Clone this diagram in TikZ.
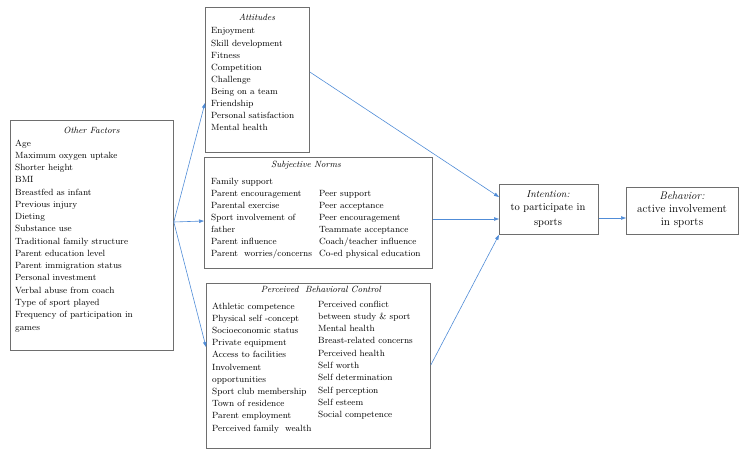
\documentclass[tikz,border=0pt]{standalone}
\usetikzlibrary{arrows.meta}
\definecolor{boxgray}{RGB}{110,110,110}
\definecolor{arrowblue}{RGB}{80,140,215}
\begin{document}
\begin{tikzpicture}[x=1pt,y=-1pt,
  box/.style={draw=boxgray, line width=0.8pt, inner sep=0pt, anchor=north west},
  item/.style={anchor=base west, inner sep=0pt, font=\fontsize{9}{11}\selectfont},
  ttl/.style={anchor=base, inner sep=0pt, font=\fontsize{9}{11}\selectfont\itshape},
  bigttl/.style={anchor=base, inner sep=0pt, font=\fontsize{10}{12}\selectfont\itshape},
  ctr/.style={anchor=base, inner sep=0pt, font=\fontsize{10.5}{12}\selectfont},
  spaced/.style={font=\fontsize{11.3}{13}\selectfont},
  arr/.style={draw=arrowblue, line width=0.6pt, -{Triangle[length=5pt,width=3.5pt]}}]
\useasboundingbox (0,0) rectangle (745,455);
% boxes
\node[box, minimum width=163pt, minimum height=230pt] (of) at (10,120) {};
\node[box, minimum width=104pt, minimum height=145pt] (att) at (205,7) {};
\node[box, minimum width=228pt, minimum height=111pt] (sn) at (204,157) {};
\node[box, minimum width=224pt, minimum height=165pt] (pbc) at (206,283) {};
\node[box, minimum width=99pt, minimum height=50pt] (int) at (499,184) {};
\node[box, minimum width=112pt, minimum height=47pt] (beh) at (626,187) {};
% Other factors
\node[ttl] (oft) at (91.5,133) {Other Factors};
\foreach \t [count=\i from 0] in {Age, Maximum oxygen uptake, Shorter height, BMI, Breastfed as infant, Previous injury, Dieting, Substance use, Traditional family structure, Parent education level, Parent immigration status, Personal investment, Verbal abuse from coach, Type of sport played, Frequency of participation in, games}
  \node[item] (of\i) at (15,146+12.27*\i) {\t};
% Attitudes
\node[ttl] (attt) at (257,20) {Attitudes};
\foreach \t [count=\i from 0] in {Enjoyment, Skill development, Fitness, Competition, Challenge, Being on a team, Friendship, Personal satisfaction, Mental health}
  \node[item] (att\i) at (211,34+12.1*\i) {\t};
% Subjective norms
\node[ttl] (snt) at (306,167) {Subjective Norms};
\foreach \t [count=\i from 0] in {Family support, Parent encouragement, Parental exercise, Sport involvement of, father, Parent influence, Parent\ \ worries/concerns}
  \node[item] (snl\i) at (211,184+12*\i) {\t};
\foreach \t [count=\i from 0] in {Peer support, Peer acceptance, Peer encouragement, Teammate acceptance, Coach/teacher influence, Co-ed physical education}
  \node[item] (snr\i) at (319,196+12*\i) {\t};
% PBC
\node[ttl] (pbct) at (321,292) {Perceived\ \ Behavioral Control};
\foreach \t [count=\i from 0] in {Athletic competence, Physical self -concept, Socioeconomic status, Private equipment, Access to facilities, Involvement, opportunities, Sport club membership, Town of residence, Parent employment, Perceived family\ \ wealth}
  \node[item] (pbcl\i) at (212,309+12.2*\i) {\t};
\foreach \t [count=\i from 0] in {Perceived conflict, between study \& sport, Mental health, Breast-related concerns, Perceived health, Self worth, Self determination, Self perception, Self esteem, Social competence}
  \node[item] (pbcr\i) at (318,307+12.3*\i) {\t};
% Intention / Behavior
\node[bigttl] (intt) at (548,197) {Intention:};
\node[ctr] (int1) at (548,210.5) {to participate in};
\node[ctr] (int2) at (548,225) {sports};
\node[bigttl, font=\fontsize{11}{13}\selectfont\itshape] (beht) at (682,199) {Behavior:};
\node[ctr, spaced] (beh1) at (682,212) {active involvement};
\node[ctr, spaced] (beh2) at (682,225) {in sports};
% arrows
\coordinate (ofout) at (of.east |- 0,222);
\draw[arr] (ofout) -- (att.west |- 0,103);
\draw[arr] (ofout) -- (sn.west |- 0,221);
\draw[arr] (ofout) -- (pbc.west |- 0,347);
\draw[arr] (att.east |- 0,72) -- (int.west |- 0,197);
\draw[arr] (sn.east |- 0,219) -- (int.west |- 0,219);
\draw[arr] (pbc.east |- 0,365) -- (int.south west);
\draw[arr] (int.east |- 0,218) -- (beh.west |- 0,218);
\end{tikzpicture}
\end{document}
